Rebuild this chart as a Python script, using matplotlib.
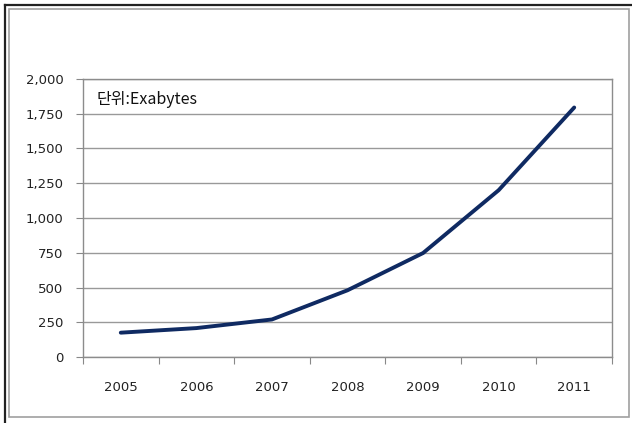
import numpy as np
import matplotlib.pyplot as plt
from matplotlib.patches import Rectangle
from matplotlib.lines import Line2D
from matplotlib.ticker import FuncFormatter

years = ['2005', '2006', '2007', '2008', '2009', '2010', '2011']
exabytes = [175, 208, 270, 480, 748, 1200, 1795]
y_ticks = [0, 250, 500, 750, 1000, 1250, 1500, 1750, 2000]

W, H = 632, 423
fig = plt.figure(figsize=(W / 100, H / 100), dpi=100)

# figure frame: dark outer line on left/top, gray inner box
fig.add_artist(Line2D([5 / W, 5 / W], [0, 1 - 5 / H], color='#222222', lw=1.6))
fig.add_artist(Line2D([5 / W, 1], [1 - 5 / H, 1 - 5 / H], color='#222222', lw=1.6))
fig.add_artist(Rectangle((9 / W, (H - 417) / H), (629 - 9) / W, (417 - 9) / H,
                         fill=False, edgecolor='#a0a0a0', lw=1.2))

ax = fig.add_axes([83 / W, (H - 357) / H, (612 - 83) / W, (357 - 79) / H])

x = np.arange(len(years))
ax.plot(x, exabytes, color='#0f2a62', lw=2.8, solid_capstyle='round')

ax.set_xlim(-0.5, len(years) - 0.5)
ax.set_ylim(0, 2000)
ax.set_yticks(y_ticks)
ax.yaxis.set_major_formatter(FuncFormatter(lambda v, p: f'{int(v):,}'))
ax.grid(axis='y', color='#999999', lw=1.0)
ax.set_axisbelow(True)

ax.set_xticks(np.arange(len(years) + 1) - 0.5)
ax.set_xticklabels([])
ax.set_xticks(x, minor=True)
ax.set_xticklabels(years, minor=True)
ax.tick_params(axis='x', which='major', length=5, color='#888888', direction='out')
ax.tick_params(axis='x', which='minor', length=0, pad=17, labelsize=9.5, labelcolor='#222222')
ax.tick_params(axis='y', length=5, color='#888888', pad=9, labelsize=9.5, labelcolor='#222222')

for s in ax.spines.values():
    s.set_color('#8c8c8c')
    s.set_linewidth(1.0)

ax.text(97 / W, (H - 100) / H, '단위:Exabytes', transform=fig.transFigure,
        family=['Noto Sans CJK KR', 'DejaVu Sans'], fontsize=11.5,
        va='center', ha='left', color='#111111')

fig.savefig('out.png', dpi=100)
